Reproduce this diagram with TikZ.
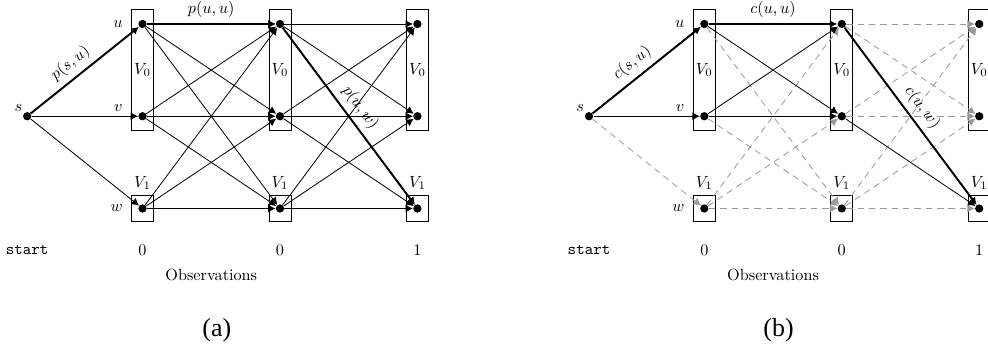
\documentclass[tikz,border=0pt]{standalone}
\usepackage{fontspec}
\newfontfamily\capfont{Liberation Serif}
\usetikzlibrary{arrows.meta,positioning,fit}
\tikzset{
  dot/.style={circle,fill=black,inner sep=0pt,minimum size=1.8mm},
  hop/.style={-{Latex[length=1.6mm,width=1.7mm]},draw=#1,line width=0.5pt},
  hop/.default=black,
  best/.style={hop,line width=1.2pt},
  pruned/.style={hop=black!40,dash pattern=on 4pt off 3pt},
  group/.style={draw,line width=0.5pt,inner xsep=0.14cm,inner ysep=#1},
  group/.default=0.22cm,
  panel/.style={font=\capfont\fontsize{16}{18}\selectfont},
}

\begin{document}
\begin{tikzpicture}
  \useasboundingbox (0,0) rectangle (21.42,7.52);
  \clip (0,0) rectangle (21.42,7.52);
  % states, groups and observations of both panels
  \foreach \P/\dx in {a/0,b/12.18}{
    \begin{scope}[xshift=\dx cm]
      \node[dot,label={[inner sep=1pt]above left:$s$}] (\P s) at (0.59,5) {};
      \foreach \c/\x/\o in {1/3.09/0,2/6.07/0,3/9.05/1}{
        \node[dot] (\P u\c) at (\x,7) {};
        \node[dot] (\P v\c) at (\x,5) {};
        \node[dot] (\P w\c) at (\x,3) {};
        \node[group,fit=(\P u\c)(\P v\c)] (\P top\c) {};
        \node (\P V0\c) at (\P top\c.center) {$V_0$};
        \node[group=0.18cm,fit=(\P w\c),label=above:$V_1$] (\P bot\c) {};
        \node (\P obs\c) at (\x,2.1) {$\o$};
      }
      \node[left=6pt of \P u1] (\P lu) {$u$};
      \node[left=6pt of \P v1,yshift=5pt] (\P lv) {$v$};
      \node[left=6pt of \P w1] (\P lw) {$w$};
      \node[font=\ttfamily] (\P start) at (0.59,2.1) {start};
      \node (\P title) at (4.58,1.56) {Observations};
      \node[panel] (\P cap) at (4.7,0.37) {(\P)};
    \end{scope}
  }
  % (a) every transition
  \draw[hop] (as) -- (av1);
  \draw[hop] (as) -- (aw1);
  \foreach \i/\j in {1/2,2/3}
    \foreach \m in {u,v,w}
      \foreach \n in {u,v,w}
        \draw[hop] (a\m\i) -- (a\n\j);
  \draw[best] (as) -- node[sloped,above,pos=0.45] {$p(s,u)$} (au1);
  \draw[best] (au1) -- node[above] {$p(u,u)$} (au2);
  \draw[best] (au2) -- node[sloped,above] {$p(u,w)$} (aw3);
  % (b) pruned transitions in grey
  \foreach \m/\n in {s/w1,u1/w2,v1/w2,w1/u2,w1/v2,w1/w2,u2/u3,u2/v3,v2/u3,v2/v3,w2/u3,w2/v3,w2/w3}
    \draw[pruned] (b\m) -- (b\n);
  \foreach \m/\n in {s/v1,u1/v2,v1/u2,v1/v2,v2/w3}
    \draw[hop] (b\m) -- (b\n);
  \draw[best] (bs) -- node[sloped,above,pos=0.45] {$c(s,u)$} (bu1);
  \draw[best] (bu1) -- node[above] {$c(u,u)$} (bu2);
  \draw[best] (bu2) -- node[sloped,above] {$c(u,w)$} (bw3);
\end{tikzpicture}
\end{document}
